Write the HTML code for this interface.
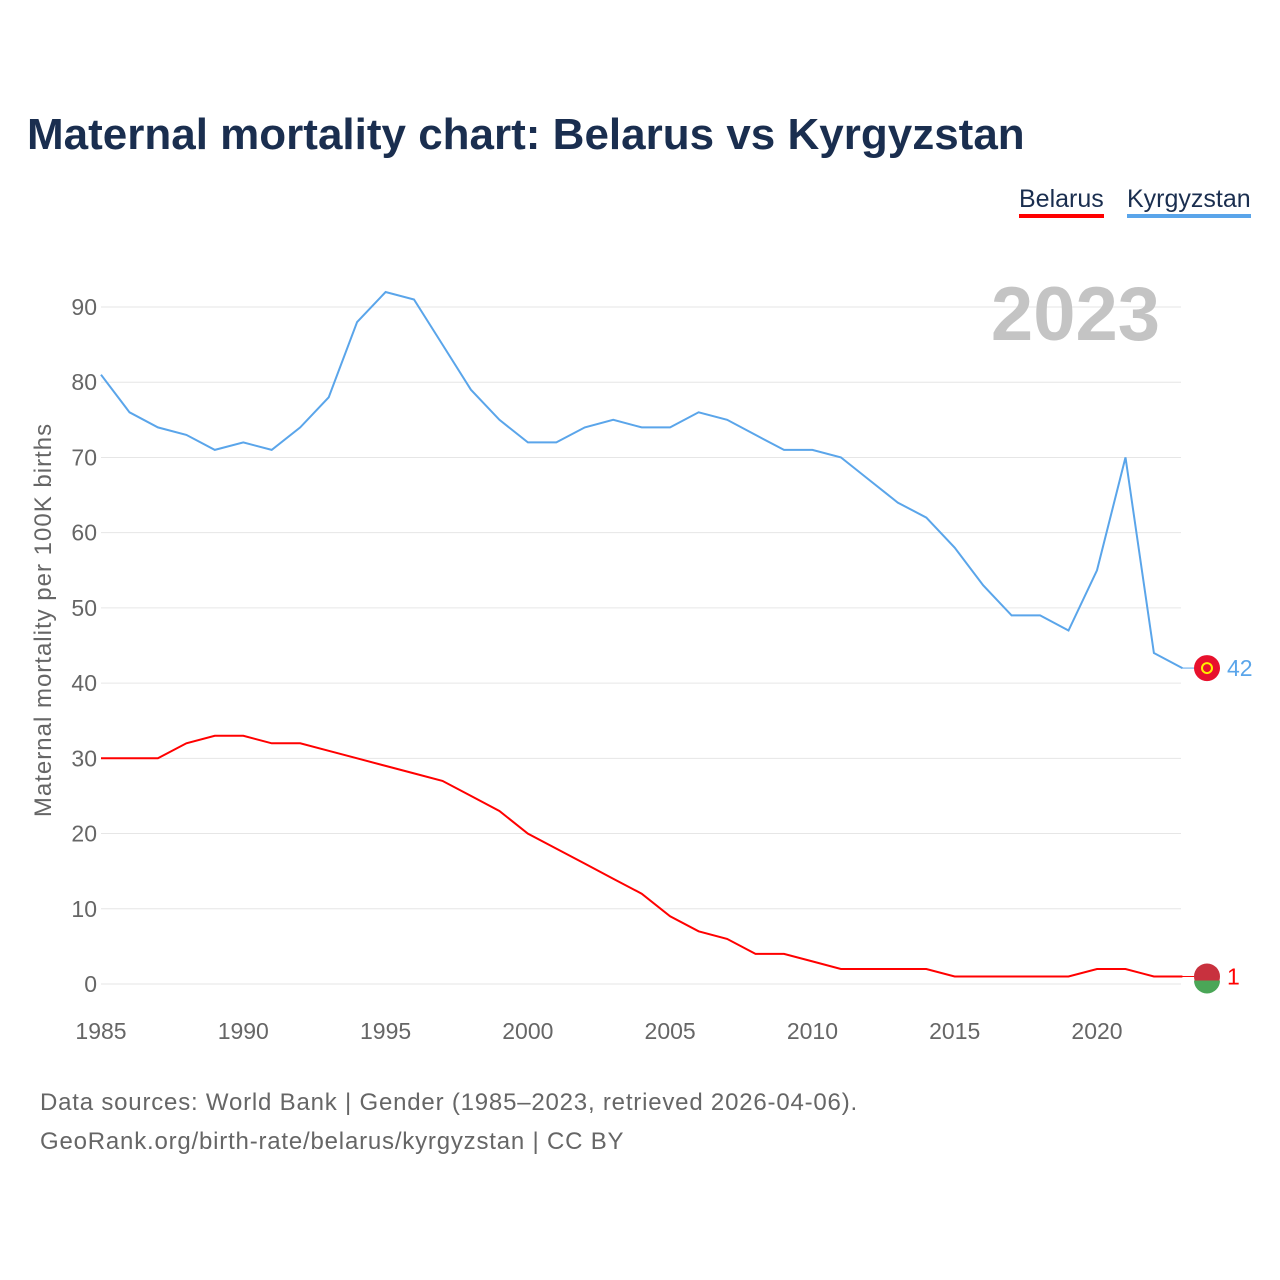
<!DOCTYPE html>
<html><head><meta charset="utf-8">
<style>
body{margin:0;background:#fff;font-family:"Liberation Sans",sans-serif;}
#wrap{position:relative;width:1280px;height:1280px;overflow:hidden;}
.t{position:absolute;white-space:nowrap;}
</style></head>
<body>
<div id="wrap">
<div class="t" style="left:27px;top:110px;font-size:44px;font-weight:bold;color:#1a2e4f;">Maternal mortality chart: Belarus vs Kyrgyzstan</div>
<div class="t" style="left:1019px;top:184px;font-size:25px;color:#1a2e4f;border-bottom:4px solid #f00;line-height:30px;">Belarus</div>
<div class="t" style="left:1127px;top:184px;font-size:25px;color:#1a2e4f;border-bottom:4px solid #5aa5ea;line-height:30px;">Kyrgyzstan</div>
<div class="t" style="left:40px;top:1083px;font-size:24px;letter-spacing:0.8px;color:#666;line-height:39px;">Data sources: World Bank | Gender (1985–2023, retrieved 2026-04-06).<br>GeoRank.org/birth-rate/belarus/kyrgyzstan | CC BY</div>
<svg id="chart" width="1280" height="1280" style="position:absolute;left:0;top:0"></svg>
</div>
<script>
const years=[1985,1986,1987,1988,1989,1990,1991,1992,1993,1994,1995,1996,1997,1998,1999,2000,2001,2002,2003,2004,2005,2006,2007,2008,2009,2010,2011,2012,2013,2014,2015,2016,2017,2018,2019,2020,2021,2022,2023];
const kyrgyzstan=[81,76,74,73,71,72,71,74,78,88,92,91,85,79,75,72,72,74,75,74,74,76,75,73,71,71,70,67,64,62,58,53,49,49,47,55,70,44,42];
const belarus=[30,30,30,32,33,33,32,32,31,30,29,28,27,25,23,20,18,16,14,12,9,7,6,4,4,3,2,2,2,2,1,1,1,1,1,2,2,1,1];
const yTicks=[0,10,20,30,40,50,60,70,80,90];
const xTicks=[1985,1990,1995,2000,2005,2010,2015,2020];
const NS="http://www.w3.org/2000/svg";
const svg=document.getElementById('chart');
const x=v=>101+(v-1985)*(1097-101)/35;
const y=v=>984-v*(984-307)/90;
function mk(tag,attrs,parent){const e=document.createElementNS(NS,tag);for(const k in attrs)e.setAttribute(k,attrs[k]);(parent||svg).appendChild(e);return e;}
yTicks.forEach(t=>{
  const g=mk('line',{x1:101,x2:1181,y1:y(t),y2:y(t),stroke:'#e6e6e6','stroke-width':1});
  
  
  const l=mk('text',{x:97,y:y(t)+8,'text-anchor':'end','font-size':23,fill:'#666','font-family':'Liberation Sans, sans-serif'});
  l.textContent=t;
  
  
});
xTicks.forEach(t=>{
  const l=mk('text',{x:x(t),y:1039,'text-anchor':'middle','font-size':23,fill:'#666','font-family':'Liberation Sans, sans-serif'});
  l.textContent=t;
  
  
});
const yt=mk('text',{transform:'translate(51,620) rotate(-90)','text-anchor':'middle','font-size':24,'letter-spacing':1,fill:'#666','font-family':'Liberation Sans, sans-serif'});
yt.textContent='Maternal mortality per 100K births';


const yr=mk('text',{x:1160,y:340,'text-anchor':'end','font-size':76,'font-weight':'bold',fill:'#c4c4c4','font-family':'Liberation Sans, sans-serif'});
yr.textContent='2023';


function series(vals,color,name){
  const d=vals.map((v,i)=>(i?'L':'M')+x(years[i]).toFixed(1)+','+y(v).toFixed(1)).join(' ');
  const p=mk('path',{d:d,fill:'none',stroke:color,'stroke-width':2});
  
  
  const last=vals[vals.length-1];
  const c=mk('circle',{cx:1207,cy:y(last),r:13,fill:name==='kyrgyzstan'?'#e8112d':'#c8313e'});
  
  
  const t=mk('text',{x:1227,y:y(last)+8,'font-size':23,fill:color,'font-family':'Liberation Sans, sans-serif'});
  t.textContent=last;
  
  
  mk('line',{x1:1182,x2:1194,y1:y(last),y2:y(last),stroke:color,'stroke-width':1});
}
series(kyrgyzstan,'#5aa5ea','kyrgyzstan');
series(belarus,'#f00','belarus');
const sun=mk('circle',{cx:1207,cy:y(42),r:5,fill:'none',stroke:'#ffef00','stroke-width':2});


const gr=mk('path',{d:`M1194,${y(1)+4} L1220,${y(1)+4} A13,13 0 0 1 1194,${y(1)+4}Z`,fill:'#4aa657'});


</script>
</body></html>
